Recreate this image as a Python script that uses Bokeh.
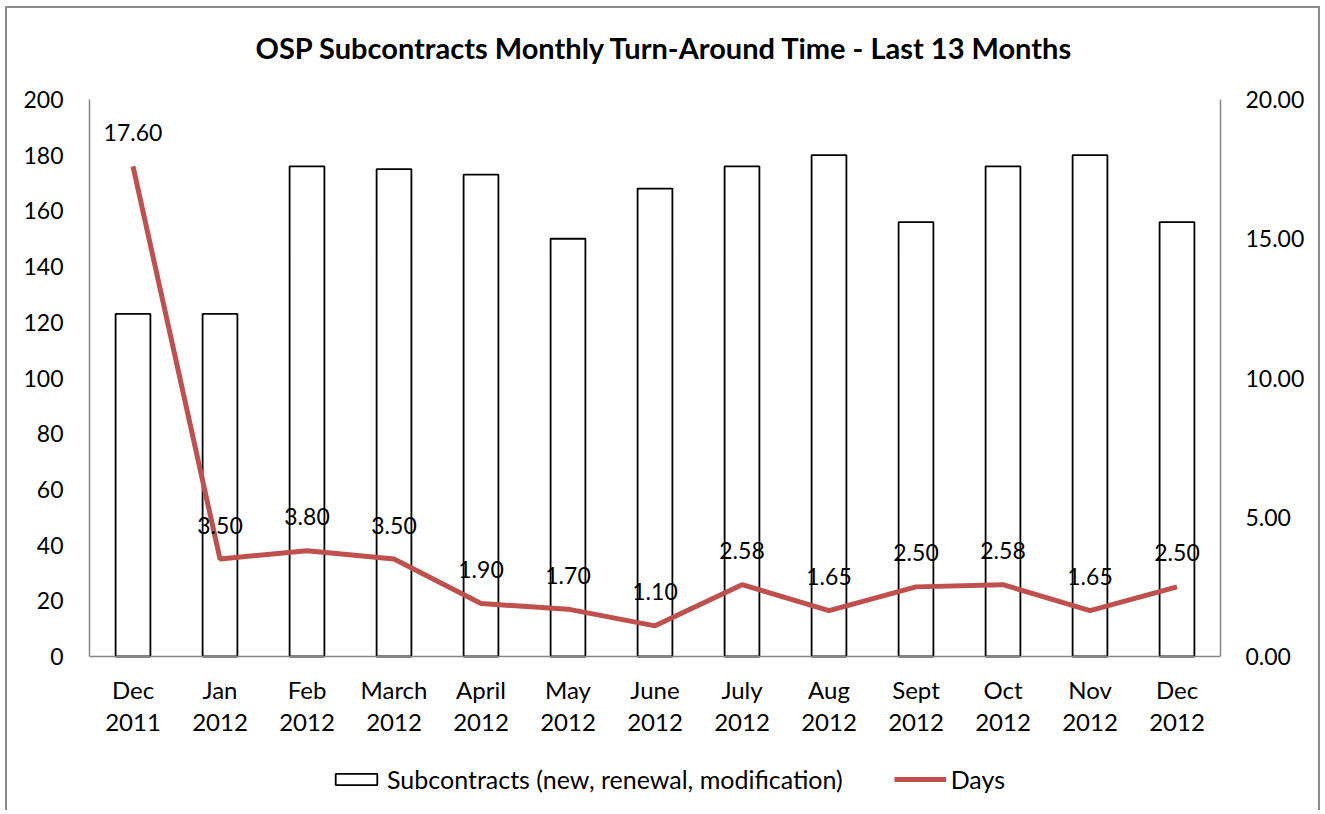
from bokeh.plotting import figure
from bokeh.models import (ColumnDataSource, FactorRange, Range1d, LinearAxis, FixedTicker,
                          NumeralTickFormatter, Legend, LegendItem, Span, Label)
from bokeh.core.properties import value
from bokeh.embed import file_html
from bokeh.resources import INLINE

months = ["Dec\n2011", "Jan\n2012", "Feb\n2012", "March\n2012", "April\n2012", "May\n2012",
          "June\n2012", "July\n2012", "Aug\n2012", "Sept\n2012", "Oct\n2012", "Nov\n2012", "Dec\n2012"]
subcontracts = [123, 123, 176, 175, 173, 150, 168, 176, 180, 156, 176, 180, 156]
days = [17.60, 3.50, 3.80, 3.50, 1.90, 1.70, 1.10, 2.58, 1.65, 2.50, 2.58, 1.65, 2.50]
left_ticks = [0, 20, 40, 60, 80, 100, 120, 140, 160, 180, 200]
right_ticks = [0, 5, 10, 15, 20]
LEFT_MAX = 200
RIGHT_MAX = 20
TITLE = "OSP Subcontracts Monthly Turn-Around Time - Last 13 Months"

FONT = "Lato"
GRAY = "#868686"
RED = "#C0504D"
NUM_FS = "23px"

# layout (canvas pixels)
W, H = 1315, 804
FRAME_TOP, MAX_PX, ZERO_PX, FRAME_BOTTOM = 4, 91, 648, 800
TITLE_PX = 39
ppu = (ZERO_PX - MAX_PX) / LEFT_MAX
y_start = -(FRAME_BOTTOM - ZERO_PX) / ppu
y_end = LEFT_MAX + (MAX_PX - FRAME_TOP) / ppu
title_y = LEFT_MAX + (MAX_PX - TITLE_PX) / ppu
scale = RIGHT_MAX / LEFT_MAX

src = ColumnDataSource(dict(x=months, sub=subcontracts, days=days,
                            lbl=["%.2f" % d for d in days],
                            zero=[0] * len(months)))

p = figure(x_range=FactorRange(factors=months), y_range=Range1d(y_start, y_end),
           width=W, height=H, output_backend="svg", toolbar_location=None,
           x_axis_location=None,
           min_border_left=82, min_border_right=102, min_border_top=FRAME_TOP,
           min_border_bottom=H - FRAME_BOTTOM)
p.styles = {"border-top": "2px solid #8c8c8c", "border-left": "2px solid #8c8c8c",
            "border-right": "2px solid #8c8c8c", "margin-left": "5px", "margin-top": "6px"}

p.outline_line_color = None
p.grid.grid_line_color = None

p.extra_y_ranges = {"days": Range1d(y_start * scale, y_end * scale)}

bars = p.vbar(x="x", top="sub", width=0.4, source=src, fill_color="white",
              line_color="black", line_width=1.8)
p.add_layout(Span(location=0, dimension="width", line_color=GRAY, line_width=1.5))
line = p.line(x="x", y="days", source=src, y_range_name="days", line_color=RED, line_width=5)
p.text(x="x", y="days", text="lbl", source=src, y_range_name="days", y_offset=-34,
       text_align="center", text_baseline="middle", text_font=value(FONT),
       text_font_size=NUM_FS, text_color="black")
# category (x-axis) labels
p.text(x="x", y="zero", text="x", source=src, y_offset=49,
       text_align="center", text_baseline="middle", text_font=value(FONT),
       text_font_size="24px", text_color="black", text_line_height=1.08)

# chart title
p.add_layout(Label(x=len(months) / 2, y=title_y, x_offset=10, text=TITLE,
                   text_align="center", text_baseline="middle", text_font=FONT,
                   text_font_size="29px", text_font_style="bold", text_color="black"))

lax = p.yaxis[0]
lax.ticker = FixedTicker(ticks=left_ticks)
lax.bounds = (0, LEFT_MAX)
lax.major_label_standoff = 20

raxis = LinearAxis(y_range_name="days", ticker=FixedTicker(ticks=right_ticks),
                   formatter=NumeralTickFormatter(format="0.00"))
raxis.bounds = (0, RIGHT_MAX)
raxis.major_label_standoff = 19
p.add_layout(raxis, "right")

for ax in [lax, raxis]:
    ax.axis_line_color = GRAY
    ax.axis_line_width = 1.5
    ax.major_tick_line_color = None
    ax.minor_tick_line_color = None
    ax.major_label_text_font = FONT
    ax.major_label_text_font_size = NUM_FS
    ax.major_label_text_color = "black"

legend = Legend(items=[LegendItem(label="Subcontracts (new, renewal, modification)", renderers=[bars]),
                       LegendItem(label="Days", renderers=[line])],
                orientation="horizontal", location=(241, 14),
                label_text_font=FONT, label_text_font_size="25px", label_text_color="black",
                glyph_width=52, glyph_height=14, spacing=51, label_standoff=5,
                padding=0, margin=0, border_line_color=None, background_fill_alpha=0)
p.add_layout(legend, "center")

open("out.html", "w").write(file_html(p, INLINE))
